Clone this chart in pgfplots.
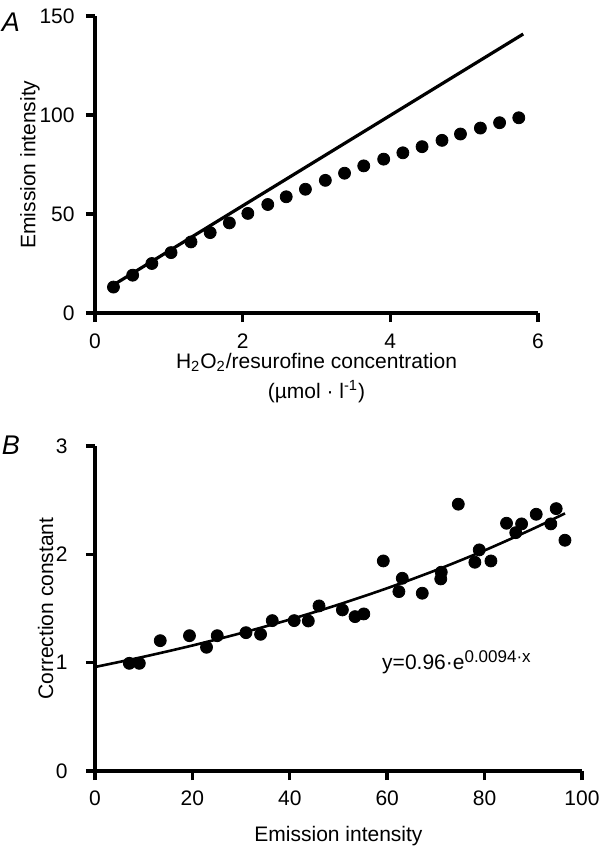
\documentclass[border=0pt]{standalone}
\usepackage{fontspec}
\setmainfont{Liberation Sans}
\usepackage{pgfplots}
\pgfplotsset{compat=1.18}
\begin{document}
\begin{tikzpicture}[font=\fontsize{10.5}{15}\selectfont]
\useasboundingbox (-47.5pt,-38.5pt) rectangle (254pt,385.5pt);
\pgfplotsset{
 every axis/.append style={
  scale only axis, axis x line*=bottom, axis y line*=left,
  axis line style={line width=1.7pt, black},
  tick align=outside, major tick length=4.5pt,
  tick style={line width=1.7pt, black},
  /pgf/number format/assume math mode=true,
  clip=false,
  tick label style={font=\fontsize{10.5}{12}\selectfont, inner sep=0pt},
  label style={font=\fontsize{10.5}{15}\selectfont},
 }}
% Panel A
\begin{axis}[at={(0pt,229pt)}, anchor=south west, width=221.5pt, height=148.5pt,
  xmin=0, xmax=6, ymin=0, ymax=150, xtick={0,2,4,6}, ytick={0,50,100,150},
  xticklabel style={anchor=center, yshift=-9.5pt},
  yticklabel style={anchor=east, xshift=-5.5pt},
  xlabel={H\textsubscript{2}O\textsubscript{2}/resurofine concentration\\(µmol · l\textsuperscript{-1})},
  xlabel style={at={(axis description cs:0.5,0)}, anchor=north, inner sep=0pt, yshift=-20pt, align=center},
  ylabel={Emission intensity},
  ylabel style={at={(axis description cs:-0.147,0.5)}, anchor=center, inner sep=0pt}]
\addplot[line width=1.6pt, black, no marks] coordinates {(0.22,13.5) (5.80,140.9)};
\addplot[only marks, mark=*, mark size=3pt, black] coordinates {
(0.25,13.1) (0.51,19.1) (0.77,25.0) (1.03,30.5) (1.30,35.9) (1.56,40.6)
(1.82,45.5) (2.07,50.3) (2.34,54.8) (2.59,58.7) (2.85,62.5) (3.12,67.0)
(3.38,70.6) (3.64,74.3) (3.91,77.7) (4.17,80.9) (4.43,84.0) (4.70,87.2)
(4.95,90.4) (5.22,93.4) (5.48,96.1) (5.74,98.6)};
\end{axis}
% Panel B
\begin{axis}[at={(0pt,0pt)}, anchor=south west, width=243.5pt, height=162.5pt,
  xmin=0, xmax=100, ymin=0, ymax=3, xtick={0,20,40,60,80,100}, ytick={0,1,2,3},
  xticklabel style={anchor=center, yshift=-9pt},
  yticklabel style={anchor=east, xshift=-9pt},
  xlabel={Emission intensity},
  xlabel style={at={(axis description cs:0.5,0)}, anchor=north, inner sep=0pt, yshift=-27.5pt},
  ylabel={Correction constant},
  ylabel style={at={(axis description cs:-0.1016,0.5)}, anchor=center, inner sep=0pt}]
\addplot[line width=1.3pt, black, no marks, smooth] coordinates {
(0,0.960) (10,1.0547) (20,1.1585) (30,1.2728) (40,1.3982) (50,1.5360)
(60,1.6874) (70,1.8537) (80,2.0365) (90,2.2371) (96.5,2.3780)};
\addplot[only marks, mark=*, mark size=3pt, black] coordinates {
(7.05,0.994) (9.1,0.994) (13.4,1.203) (19.4,1.249) (22.9,1.142) (25.1,1.249)
(31.0,1.277) (34.0,1.262) (36.4,1.388) (40.9,1.388) (43.8,1.385) (46.0,1.524)
(50.8,1.487) (53.4,1.425) (55.2,1.450) (59.2,1.939) (62.4,1.656) (63.1,1.779)
(67.2,1.641) (71.0,1.773) (71.1,1.835) (74.6,2.463) (78.0,1.927) (78.9,2.041)
(81.3,1.939) (84.5,2.287) (86.4,2.200) (87.6,2.281) (90.6,2.370) (93.6,2.281)
(94.7,2.422) (96.5,2.130)};
\node[anchor=base west, inner sep=0pt] at (axis cs:58.9,0.933)
  {y=0.96·e\raisebox{3.8pt}{\fontsize{8.5}{10}\selectfont 0.0094·x}};
\end{axis}
\node[font=\fontsize{13.5}{14}\selectfont\itshape] at (-42pt,374.5pt) {A};
\node[font=\fontsize{13.5}{14}\selectfont\itshape] at (-42pt,163pt) {B};
\end{tikzpicture}
\end{document}
